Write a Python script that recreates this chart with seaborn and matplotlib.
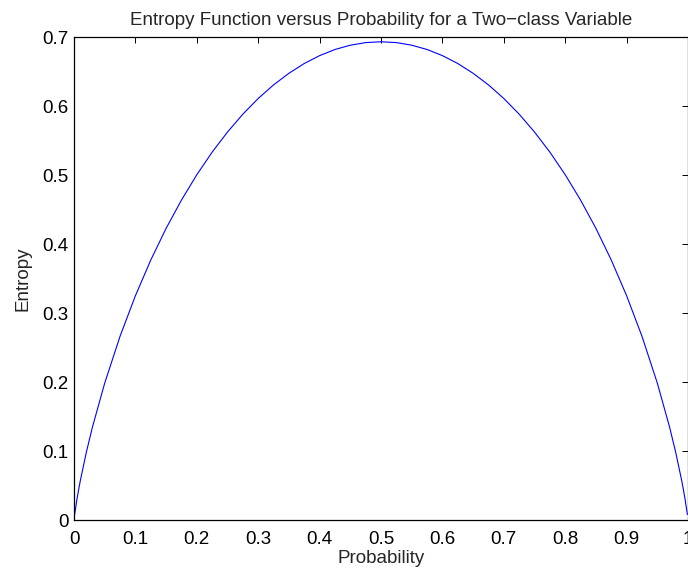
import numpy as np
import pandas as pd
import seaborn as sns
import matplotlib.pyplot as plt

# значения (левая половина, правая симметрична)
prob_left = [0.001, 0.005, 0.01, 0.02, 0.03, 0.05, 0.075, 0.1, 0.125, 0.15, 0.175,
             0.2, 0.225, 0.25, 0.275, 0.3, 0.325, 0.35, 0.375, 0.4, 0.425, 0.45, 0.475]
entropy_left = [0.0079, 0.0315, 0.0560, 0.0980, 0.1347, 0.1985, 0.2664, 0.3251, 0.3768,
                0.4227, 0.4637, 0.5004, 0.5332, 0.5623, 0.5882, 0.6109, 0.6306, 0.6474,
                0.6616, 0.6730, 0.6819, 0.6881, 0.6919]
prob_mid = [0.5]
entropy_mid = [0.6931]
prob_right = [0.525, 0.55, 0.575, 0.6, 0.625, 0.65, 0.675, 0.7, 0.725, 0.75, 0.775, 0.8,
              0.825, 0.85, 0.875, 0.9, 0.925, 0.95, 0.97, 0.98, 0.99, 0.995, 0.999]
entropy_right = [0.6919, 0.6881, 0.6819, 0.6730, 0.6616, 0.6474, 0.6306, 0.6109, 0.5882,
                 0.5623, 0.5332, 0.5004, 0.4637, 0.4227, 0.3768, 0.3251, 0.2664, 0.1985,
                 0.1347, 0.0980, 0.0560, 0.0315, 0.0079]

df = pd.DataFrame({
    'Probability': prob_left + prob_mid + prob_right,
    'Entropy': entropy_left + entropy_mid + entropy_right,
})

FS = 13.5

sns.set_style('white')
plt.rcParams['font.family'] = ['Liberation Sans', 'DejaVu Sans']
plt.rcParams['font.size'] = FS

fig = plt.figure(figsize=(6.88, 5.71), dpi=100)
ax = fig.add_axes([0.1076, 0.0893, 0.8924, 0.8459])
sns.lineplot(data=df, x='Probability', y='Entropy', color='blue', linewidth=0.8,
             sort=False, ax=ax)

ax.set_xlim(0, 1)
ax.set_ylim(0, 0.7)
ax.set_xticks(np.arange(0, 1.01, 0.1))
ax.set_xticklabels(['0', '0.1', '0.2', '0.3', '0.4', '0.5', '0.6', '0.7', '0.8', '0.9', '1'])
ax.set_yticks(np.arange(0, 0.71, 0.1))
ax.set_yticklabels(['0', '0.1', '0.2', '0.3', '0.4', '0.5', '0.6', '0.7'])
ax.tick_params(direction='in', length=4.5, width=0.7, top=True, right=True,
               labelsize=FS, colors='black')
ax.tick_params(axis='x', pad=8)
ax.tick_params(axis='y', pad=4)
for s in ax.spines.values():
    s.set_visible(True)
    s.set_color('black')
    s.set_linewidth(0.9)

ax.set_title('Entropy Function versus Probability for a Two\u2212class Variable',
             fontsize=FS, pad=9)
ax.set_xlabel('Probability', fontsize=FS, labelpad=1)
ax.set_ylabel('Entropy', fontsize=FS, labelpad=8)

fig.savefig('out.png', dpi=100)
